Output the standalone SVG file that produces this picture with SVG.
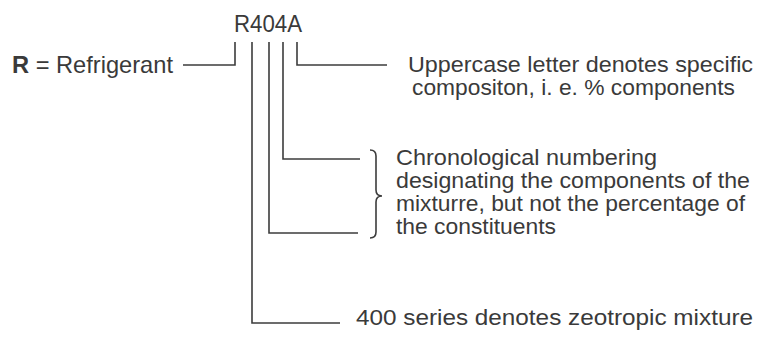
<svg xmlns="http://www.w3.org/2000/svg" width="761" height="338" viewBox="0 0 761 338">
<style>
.t{font-family:"Liberation Sans",Arial,sans-serif;font-size:22.5px;fill:#3a3a3a}
.c{fill:none;stroke:#3c3c3c;stroke-width:1.6}
</style>
<rect width="761" height="338" fill="#ffffff"/>
<g id="code"><text class="t" x="234" y="32" style="font-size:23px" textLength="68" lengthAdjust="spacingAndGlyphs">R404A</text></g>
<g id="refrigerant"><text class="t" x="12" y="73" style="font-size:24px" textLength="161" lengthAdjust="spacingAndGlyphs"><tspan font-weight="bold">R</tspan> = Refrigerant</text></g>
<g id="uppercase">
<text class="t" x="408" y="72" textLength="345" lengthAdjust="spacingAndGlyphs">Uppercase letter denotes specific</text>
<text class="t" x="412" y="95" textLength="323" lengthAdjust="spacingAndGlyphs">compositon, i. e. % components</text>
</g>
<g id="chronological">
<text class="t" x="396" y="165" textLength="261" lengthAdjust="spacingAndGlyphs">Chronological numbering</text>
<text class="t" x="396" y="188" textLength="354" lengthAdjust="spacingAndGlyphs">designating the components of the</text>
<text class="t" x="396" y="211" textLength="349" lengthAdjust="spacingAndGlyphs">mixturre, but not the percentage of</text>
<text class="t" x="396" y="234" textLength="160" lengthAdjust="spacingAndGlyphs">the constituents</text>
</g>
<g id="series"><text class="t" x="356" y="325" textLength="397" lengthAdjust="spacingAndGlyphs">400 series denotes zeotropic mixture</text></g>
<g id="connectors">
<path class="c" d="M183,65 H235 V42"/>
<path class="c" d="M297,42 V65 H387"/>
<path class="c" d="M283,42 V159 H360"/>
<path class="c" d="M269,42 V233 H358"/>
<path class="c" d="M252,42 V323 H340"/>
<path class="c" d="M370,150 Q376,150 376,156 V190 Q376,196 382,196 Q376,196 376,202 V232 Q376,238 370,238"/>
</g>
</svg>
